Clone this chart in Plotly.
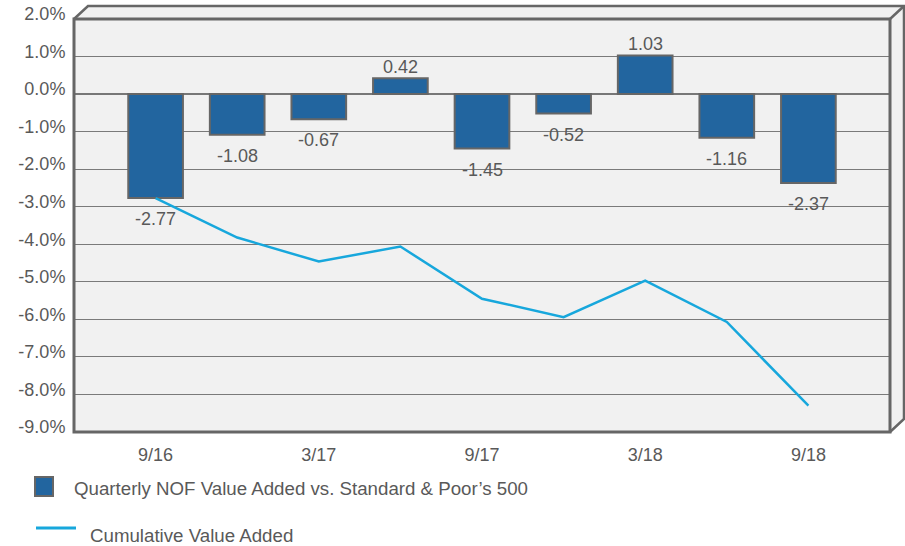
import plotly.graph_objects as go

# Quarter-end labels and values (percent)
quarters = ["9/16", "12/16", "3/17", "6/17", "9/17", "12/17", "3/18", "6/18", "9/18"]
quarterly_value_added = [-2.77, -1.08, -0.67, 0.42, -1.45, -0.52, 1.03, -1.16, -2.37]
cumulative_value_added = [-2.77, -3.82, -4.46, -4.06, -5.45, -5.94, -4.97, -6.07, -8.30]
shown_ticks = ["9/16", "3/17", "9/17", "3/18", "9/18"]
y_ticks = [2, 1, 0, -1, -2, -3, -4, -5, -6, -7, -8, -9]
y_ticktext = [f"{v:.1f}%" for v in y_ticks]

bar_series_name = "Quarterly NOF Value Added vs. Standard & Poor\u2019s 500"
line_series_name = "Cumulative Value Added"

BAR_COLOR = "#22659f"
EDGE = "#666666"
LINE_COLOR = "#17a7dc"
TEXT = "#595959"
WALL = "#f1f1f1"
FONT = "Liberation Sans, Arial, sans-serif"

fig = go.Figure()

fig.add_trace(go.Bar(
    x=quarters, y=quarterly_value_added, width=0.67,
    marker=dict(color=BAR_COLOR, line=dict(color=EDGE, width=2)),
    name=bar_series_name, showlegend=False,
))
fig.add_trace(go.Scatter(
    x=quarters, y=cumulative_value_added, mode="lines",
    line=dict(color=LINE_COLOR, width=2.5),
    name=line_series_name, showlegend=False,
))

# value labels: above positive bars, below negative ones
for q, v in zip(quarters, quarterly_value_added):
    fig.add_annotation(
        x=q, y=v, text=f"{v:.2f}", showarrow=False,
        yanchor="middle", yshift=11 if v >= 0 else -21,
        font=dict(size=18, color=TEXT, family=FONT),
    )

# plot box with a shallow 3-D back wall
dx, dy = 14 / 816, 13 / 413
shapes = [
    dict(type="path", xref="paper", yref="paper", layer="below",
         path=f"M 0,1 L {dx},{1+dy} L {1+dx},{1+dy} L {1+dx},{dy} L 1,0 L 0,0 Z",
         fillcolor=WALL, line=dict(width=0)),
    dict(type="path", xref="paper", yref="paper", layer="above",
         path=f"M 0,1 L {dx},{1+dy} L {1+dx},{1+dy} L {1+dx},{dy} L 1,0",
         line=dict(color=EDGE, width=2.5)),
    dict(type="line", xref="paper", yref="paper", layer="above",
         x0=1, y0=1, x1=1 + dx, y1=1 + dy, line=dict(color=EDGE, width=2.5)),
    dict(type="rect", xref="paper", yref="paper", layer="above",
         x0=0, y0=0, x1=1, y1=1, line=dict(color=EDGE, width=3)),
]

# legend drawn below the plot
shapes.append(dict(type="rect", xref="paper", yref="paper",
                   x0=(35 - 74) / 816, x1=(53 - 74) / 816,
                   y0=(432 - 496) / 413, y1=(432 - 477) / 413,
                   fillcolor=BAR_COLOR, line=dict(color=EDGE, width=2)))
shapes.append(dict(type="line", xref="paper", yref="paper",
                   x0=(36 - 74) / 816, x1=(76 - 74) / 816,
                   y0=(432 - 528) / 413, y1=(432 - 528) / 413,
                   line=dict(color=LINE_COLOR, width=3)))
fig.add_annotation(xref="paper", yref="paper", x=(72 - 74) / 816, y=(432 - 488) / 413,
                   xanchor="left", yanchor="middle", showarrow=False,
                   text=bar_series_name, font=dict(size=18.7, color=TEXT, family=FONT))
fig.add_annotation(xref="paper", yref="paper", x=(88 - 74) / 816, y=(432 - 535) / 413,
                   xanchor="left", yanchor="middle", showarrow=False,
                   text=line_series_name, font=dict(size=18.7, color=TEXT, family=FONT))

fig.update_layout(
    width=905, height=546,
    margin=dict(l=74, r=15, t=19, b=114),
    paper_bgcolor="white", plot_bgcolor=WALL,
    shapes=shapes, bargap=0.33,
    font=dict(family=FONT, color=TEXT),
)
fig.update_xaxes(
    type="category", categoryorder="array", categoryarray=quarters,
    range=[-1, 9], tickvals=shown_ticks, ticktext=shown_ticks,
    showgrid=False, zeroline=False, showline=False, automargin=False,
    ticks="outside", ticklen=6, tickcolor="rgba(0,0,0,0)",
    tickfont=dict(size=18, color=TEXT, family=FONT),
)
fig.update_yaxes(
    range=[-9, 2], tickvals=y_ticks, ticktext=y_ticktext,
    showgrid=True, gridcolor="#7a7a7a", gridwidth=1,
    zeroline=True, zerolinecolor="#777777", zerolinewidth=2,
    showline=False, automargin=False,
    ticks="outside", ticklen=4, tickcolor="rgba(0,0,0,0)",
    ticklabelshift=-5,
    tickfont=dict(size=18, color=TEXT, family=FONT),
)

fig.write_html("out.html")
